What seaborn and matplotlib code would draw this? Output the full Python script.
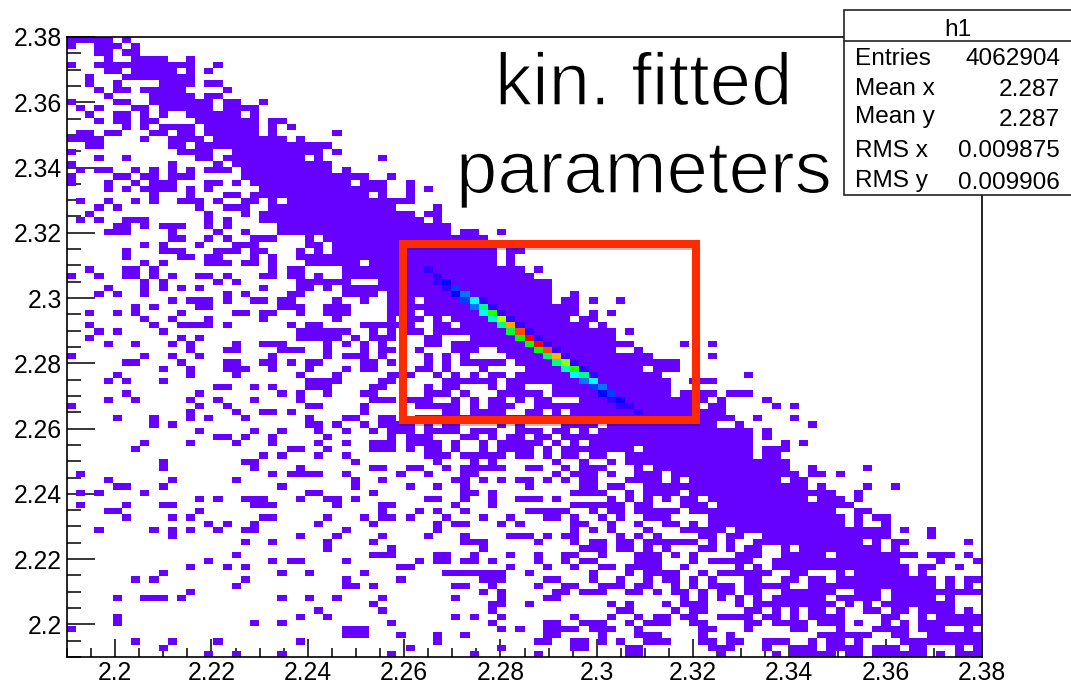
import numpy as np
import matplotlib
matplotlib.use("Agg")
import matplotlib.pyplot as plt
import matplotlib.patheffects as pe
from matplotlib.colors import LinearSegmentedColormap
from matplotlib.patches import Rectangle
import seaborn as sns

# -----------------------------
# Data
# -----------------------------
# filled bins per row, top row first, "a-b" is a run of columns
filled_rows = [
    "0-4 6", "0 3-5 7", "3-4 6-7", "4 7-10 13", "0 3-13 16",
    "4-5 7-11 13 15", "2 6-13", "2 5 10-13 15-16", "3 5-6 8-12 17", "4 9-13 15-16",
    "0 5-6 9-15 17-18 21", "1 3 7-8 10-15 17-20", "2 5-6 8 10 13-18 20", "3 5-6 8-9 14-20 22-23", "6 8 10-13 15-20 22 24",
    "1-2 4-5 9-10 12-13 15-20 22 29", "0-3 8 11-14 16-23 25", "2-3 11-12 14-28", "0 12-15 18-27 29", "3 6 14-15 17-25 27 34",
    "0 11 16 18-28", "1 3-4 7 9 11 13 15-17 19-28 30", "0 5-6 8-9 11-13 19-32 35", "0 4 7 9-11 15-16 18 20-30 32-34 37", "4 6 8-11 13 15 21-34 37 39",
    "9 13 17-18 20-32 34 37", "1 4 7 9 12-14 16 19-20 22 24-37", "3 5 14 17-19 22-35 40", "2 15 19 21-37 39-40", "1 3 6-8 15 17 21-38 40",
    "5-6 8 10-12 15 17 23-41", "4-6 11 16 19 23-41 43-44 47", "11-12 15 17 20-22 26 28-45", "8 10 14 18-20 26-27 29-46", "6 10-12 16-18 20-21 25 27 29-46 48-49",
    "6 12-13 15-16 20 22 25-46 48", "8 10 15-17 19-20 22 26-31 33-46 48", "2 6-7 9 22 24-25 30-49 51", "0 3 6-7 9 11 14-15 17 21-22 24-25 27 30-50", "8 10 16 18 25-30 34-52",
    "4 8 10 12 14 21 25-26 28 30-52", "3 5 8 17 19 24-25 30-33 35-52 55", "11 13-15 17 20-21 23-24 29 32 35-37 39-52 54-55 57 60", "7 9 14-15 23-25 28-30 35-55", "2 5 7 12 18-19 21-22 25 28-30 35-37 39-55 57 59",
    "8 11 15 21 29 35 37-38 40 42-54 56-57", "2 9 12-15 17 24 26-27 32-37 40-41 43-56 58", "3 5 10 25-30 33 35 37-38 40-59 61", "2 12 14 25-29 31 33-35 39-40 44-59", "4 7 11 13 18 21-23 28 30 32 34 39-40 42-61 67 70",
    "13 17-18 23-25 28 32 34-35 38 42-44 47-59 62", "0 8 11 14 22 28 30-32 34 39 41 43 48-63 70", "6-7 12 17-18 21-22 24 26-27 32-33 35 39 41 43-47 49-66", "10 13 17-19 22 26 30 32-33 38-39 41 45 50-62 64-66", "5 13 18 25 29 35-37 40 42 44 46-47 49-64 74",
    "4 6 10 26-29 34-35 41-46 48-65 68-70", "16-17 20 22 26-28 33-34 39 41-42 46 48-49 53-65", "6 14 23 25 28 32-33 39-41 43 47-51 53-65 67-70 72-74", "4 7 13 16 20 25 33-35 37-39 42 44 46-47 49 51-52 56-69 71 76", "0 14 17 26-27 32 38-42 44 46-48 51-68 70-71 77 79",
    "13 18 21-22 24 32 41-42 44-47 50-51 53 55-71", "5 9 13 15 19 26 30-31 34-35 38-72 75 79", "9 11 26-27 29 32 34-37 39 41-42 47 49 54-57 59-70 73 81", "14 20 23 27 30 33 35-37 39-42 44-46 49-51 53-54 56 58-74 76", "16-17 19 22 28 35 37-39 43-44 46 48-49 51-52 54-74 76",
    "8 13 18 22 27 30 33-35 37-40 42 45 47-51 53 55 57-74 78 80", "7 24-25 28 33-35 37 39-40 42 45 47-50 52 54-61 63-74 76-78", "21 23 27 30 39-41 43-47 49-50 52 54-55 57-58 61-74 76-77", "10 19-20 31 40 44 46 53 56 59 61-78", "10 20 25 33-34 37-38 41 43-47 50-51 54 56-58 62 64-78 81 87",
    "1 22 24-27 30 36 39 43-44 53 55-57 59 62-64 66-79 81-82 84", "4 11 18 31 34 42-43 45 47 49-50 52 54 56-57 61-64 66 68-77 79-80", "5-6 10 23 31 37 40 43 50 56-57 59-60 63-80 82 87 90", "1 3 8 26-27 33 43-44 46 55-58 61 63-66 68-83 86", "14 16 19-21 25 28-29 31 39-40 43 46 49-51 53 59 61 63 65 67-68 70-80 82-84 86",
    "1 6 10-11 20-22 29 34-35 42 46 55-60 62-63 67-69 71-85", "4-5 14 34 38 40 43 50-54 57 59-60 62-66 68-83 86-87", "6 11 13 21-22 28 32 34-35 37 41 45 48 52-53 55 58 60 63-65 70-84 86 88-89", "15 17 20 27 33 40 42-43 47 49 55-56 59 62 65-66 68 70-84 86 89", "3 9 11 13 16 19-20 30 40 55 57 59 63 67-71 73-89 91 94",
    "11 25 29 34 39 43 48-50 52 54-55 60 62 64 69-70 72-73 76-89 94", "19 22 28 33 43-45 51 55 57-58 60-61 63-68 70 72 75-86 88 90-91 98", "28 35 45 56-58 60-61 63 65 69-70 72 74-75 78 80-88 90", "18 33-35 40-41 44 48 51 54-55 58 62-64 66 68 73-75 78-82 84-92 94-96 98", "15 22 24-25 30 38 40-41 43-44 46 51 54 56-57 62-64 68 70-74 77-90 95 99",
    "13 17 19 36-37 48 52 55 58-59 61-64 67 73 75 77-91 93-94 97", "10 23 26 32 41-47 50 57 61 63-66 69 71-76 79-80 84 86-91 93", "7 9 19 30 36 45-47 52-53 57 60 63 65-66 68 70 74-75 78-79 81-82 84-94 96 98-99", "18 30-31 33 42-43 46 51 54-55 58-60 62-63 66 68 70-72 74-78 81-94 96 98", "13 45 47 53-54 56-58 61-62 64 66-67 69 71-72 74-75 78-83 86-88 90-99",
    "5 8-10 12 23 26 29 34 42 47 52-53 67 69 71 73 75 77-82 84-88 90-94 96", "33 46-47 50 59 61 65 67-69 73 75-83 85 87 89-96", "27 34 46 60-61 66 68-69 74-75 77 79 81-82 84 87-88 90-91 93-96 98", "5 25 28 42 44 47 55 59 62 64-65 67-68 71-74 76-77 79 81-84 89-90 93 95-99", "5 20 23 35 46 52-53 56-58 61 63-65 68-69 74-75 77-80 82-84 86 89 91 93-99",
    "0 30-32 47 49 52-55 57-59 62 69-70 74 79-80 84 88-91 93-95 98", "30-32 36 40 43 52-53 58 62-64 69 72 82-87 90-91 94-99", "7 11 16 25 40 51-52 55-56 58 60 63-65 69-70 72-73 76-78 81 83-84 86 91-99", "10 37 47 55-56 61-62 70-72 76 79-81 83-86 88-90 92-93 97 99", "15 18 23 35 44 51 61-62 71 77 79-83 85-86 88-93 95 97-99",
]

# bins on the diagonal with more entries (fraction of the highest bin)
hot_rows = [37, 38, 39, 39, 40, 40, 41, 41, 42, 42, 42, 43, 43, 43, 44, 44, 44, 45, 45, 45,
            46, 46, 46, 47, 47, 47, 48, 48, 48, 49, 49, 49, 50, 50, 50, 51, 51, 51, 52, 52, 52,
            53, 53, 53, 54, 54, 54, 55, 55, 56, 56, 57, 57, 58, 58, 59, 59, 60]
hot_cols = [39, 40, 40, 41, 41, 42, 42, 43, 43, 44, 45, 44, 45, 46, 45, 46, 47, 46, 47, 48,
            47, 48, 49, 48, 49, 50, 49, 50, 51, 50, 51, 52, 51, 52, 53, 52, 53, 54, 53, 54, 55,
            54, 55, 56, 55, 56, 57, 56, 57, 57, 58, 58, 59, 59, 60, 60, 61, 62]
hot_vals = [.08, .08, .08, .16, .08, .20, .16, .24, .20, .33, .08, .24, .41, .08, .33, .52, .08, .37, .62, .08,
            .41, .78, .08, .46, .90, .08, .50, 1.0, .08, .50, 1.0, .08, .50, .90, .08, .43, .76, .08, .41, .59, .08,
            .37, .52, .08, .33, .41, .08, .24, .33, .20, .24, .16, .20, .08, .16, .08, .08, .08]

axis_min = 2.19
axis_max = 2.38
n_bins = 100
major_ticks = [2.2, 2.22, 2.24, 2.26, 2.28, 2.3, 2.32, 2.34, 2.36, 2.38]
tick_labels = ["2.2", "2.22", "2.24", "2.26", "2.28", "2.3", "2.32", "2.34", "2.36", "2.38"]
minor_ticks = [2.19 + 0.005 * i for i in range(39)]

stat_names = ["Entries", "Mean x", "Mean y", "RMS x", "RMS y"]
stat_values = ["4062904", "2.287", "2.287", "0.009875", "0.009906"]

# -----------------------------
# Build the histogram matrix
# -----------------------------
counts = np.full((n_bins, n_bins), np.nan)
for r, row in enumerate(filled_rows):
    for run in row.split():
        a, _, b = run.partition("-")
        counts[r, int(a):int(b or a) + 1] = 0.0
for r, c, v in zip(hot_rows, hot_cols, hot_vals):
    counts[r, c] = v

# -----------------------------
# Figure
# -----------------------------
W, H = 1071, 683
sns.set_theme(style="white")
plt.rcParams["font.family"] = ["Liberation Sans", "DejaVu Sans"]

rainbow = LinearSegmentedColormap.from_list("root_rainbow", [
    (0.0, "#6600ff"), (0.16, "#0000ff"), (0.33, "#00ffff"), (0.5, "#00ff00"),
    (0.66, "#ffff00"), (0.83, "#ff8000"), (1.0, "#ff0000")])

fig = plt.figure(figsize=(W / 100, H / 100), dpi=100, facecolor="white")
ax = fig.add_axes([67 / W, 1 - 657 / H, 915 / W, 620 / H])
sns.heatmap(counts, mask=np.isnan(counts), cmap=rainbow, vmin=0, vmax=1, cbar=False,
            xticklabels=False, yticklabels=False, ax=ax)

bin_w = (axis_max - axis_min) / n_bins
ax.set_xticks([(v - axis_min) / bin_w for v in major_ticks])
ax.set_xticklabels(tick_labels, rotation=0)
ax.set_xticks([(v - axis_min) / bin_w for v in minor_ticks], minor=True)
ax.set_yticks([(axis_max - v) / bin_w for v in major_ticks])
ax.set_yticklabels(tick_labels, rotation=0)
ax.set_yticks([(axis_max - v) / bin_w for v in minor_ticks], minor=True)

ax.tick_params(axis="x", which="major", direction="in", length=13, width=1.1, color="black",
               labelsize=17.8, labelcolor="black", pad=3, bottom=True)
ax.tick_params(axis="x", which="minor", direction="in", length=6.5, width=1.1, color="black", bottom=True)
ax.tick_params(axis="y", which="major", direction="in", length=20, width=1.1, color="black",
               labelsize=17.8, labelcolor="black", pad=3.5, left=True)
ax.tick_params(axis="y", which="minor", direction="in", length=10, width=1.1, color="black", left=True)
for s in ax.spines.values():
    s.set_visible(True)
    s.set_linewidth(1.2)
    s.set_color("black")

# -----------------------------
# Red box, label and stats box
# -----------------------------
def fx(x):
    return x / W

def fy(y):
    return 1 - y / H

red_box = Rectangle((fx(403), fy(420)), 293 / W, 176 / H, transform=fig.transFigure, fill=False,
                    edgecolor="#ff2a00", linewidth=5.8, zorder=5, joinstyle="miter")
red_box.set_path_effects([pe.SimpleLineShadow(offset=(0, -1.5), shadow_color="black", alpha=0.25), pe.Normal()])
fig.add_artist(red_box)

# white outline thins the glyphs towards the light weight of the original
thin = [pe.Stroke(linewidth=1.1, foreground="white")]
fig.text(fx(495), fy(105), "kin. fitted", fontsize=53.5, path_effects=thin,
         ha="left", va="baseline", color="black", zorder=6)
fig.text(fx(456), fy(193), "parameters", fontsize=53.5, path_effects=thin,
         ha="left", va="baseline", color="black", zorder=6)

stat_box = Rectangle((fx(844), fy(195)), 300 / W, 185 / H, transform=fig.transFigure,
                     facecolor="white", edgecolor="#222222", linewidth=1.2, zorder=7)
fig.add_artist(stat_box)
fig.add_artist(plt.Line2D([fx(844), 1], [fy(41), fy(41)], transform=fig.transFigure,
                          color="#222222", linewidth=1.2, zorder=8))
fig.text(fx(958), fy(30), "h1", fontsize=17.6, ha="center", va="center", color="black", zorder=8)

name_y = [59, 89, 117, 151, 181]
value_y = [59, 90, 120, 151, 183]
for name, value, ny, vy in zip(stat_names, stat_values, name_y, value_y):
    fig.text(fx(855), fy(ny), name, fontsize=17.6, ha="left", va="center", color="black", zorder=8)
    fig.text(fx(1060), fy(vy), value, fontsize=17.6, ha="right", va="center", color="black", zorder=8)

fig.savefig("out.png", dpi=100)
